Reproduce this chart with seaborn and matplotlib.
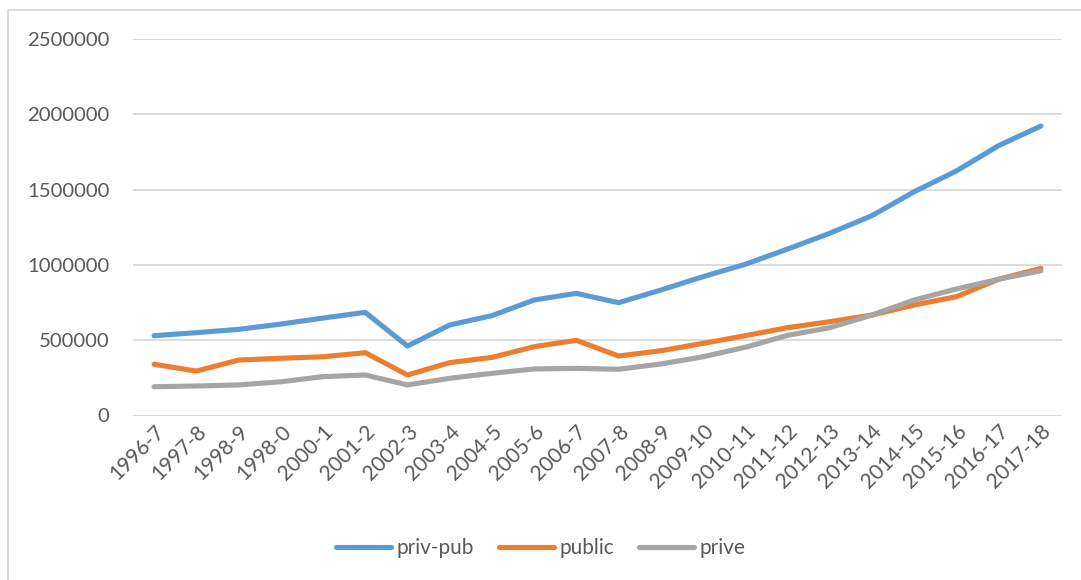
import pandas as pd
import numpy as np
import matplotlib
matplotlib.use("Agg")
import matplotlib.pyplot as plt
import seaborn as sns
from matplotlib.lines import Line2D

years = ['1996-7', '1997-8', '1998-9', '1998-0', '2000-1', '2001-2', '2002-3', '2003-4',
         '2004-5', '2005-6', '2006-7', '2007-8', '2008-9', '2009-10', '2010-11', '2011-12',
         '2012-13', '2013-14', '2014-15', '2015-16', '2016-17', '2017-18']

priv_pub = [530000, 550000, 572000, 607000, 647000, 685000, 461000, 601000,
            663000, 767000, 811000, 749000, 833000, 922000, 1004000, 1105000,
            1210000, 1327000, 1486000, 1624000, 1792000, 1922000]
public = [340000, 295000, 368000, 380000, 390000, 417000, 269000, 351000,
          386000, 457000, 499000, 395000, 430000, 479000, 530000, 583000,
          623000, 667000, 734000, 789000, 905000, 977000]
prive = [191000, 196000, 203000, 224000, 258000, 269000, 203000, 247000,
         280000, 309000, 313000, 307000, 342000, 390000, 453000, 532000,
         583000, 667000, 767000, 840000, 905000, 961000]

series_names = ['priv-pub', 'public', 'prive']
colors = ['#5B9BD5', '#ED7D31', '#A5A5A5']

df = pd.DataFrame({'year': years, 'priv-pub': priv_pub, 'public': public, 'prive': prive})
long_df = df.melt(id_vars='year', var_name='serie', value_name='value')

sns.set_style("white")
plt.rcParams['font.family'] = ['Lato', 'DejaVu Sans']

fig = plt.figure(figsize=(10.81, 5.8), dpi=100)
ax = fig.add_axes([133 / 1081, 1 - 415.5 / 580, (1062 - 133) / 1081, (415.5 - 39) / 580])

sns.lineplot(data=long_df, x='year', y='value', hue='serie', hue_order=series_names,
             palette=colors, linewidth=3.7, sort=False, legend=False, ax=ax)

ax.set_ylim(0, 2500000)
ax.set_xlim(-0.5, len(years) - 0.5)
ax.set_yticks(np.arange(0, 2500001, 500000))
ax.set_yticklabels([f'{int(v)}' for v in np.arange(0, 2500001, 500000)])
ax.yaxis.grid(True, color='#D9D9D9', linewidth=1.3)
ax.set_axisbelow(True)
for s in ax.spines.values():
    s.set_visible(False)
ax.set_xlabel('')
ax.set_ylabel('')
ax.tick_params(axis='y', length=0, pad=17, labelsize=14.6, labelcolor='#595959')
ax.tick_params(axis='x', length=0, pad=4, labelsize=15, labelcolor='#595959')
plt.setp(ax.get_xticklabels(), rotation=45, ha='right', rotation_mode='anchor')

handles = [Line2D([0], [0], color=c, linewidth=3.7, solid_capstyle='round') for c in colors]
leg = fig.legend(handles, series_names, loc='center', bbox_to_anchor=(0.5, 1 - 548 / 580),
                 ncol=3, frameon=False, fontsize=15, handlelength=2.65, handletextpad=0.25,
                 columnspacing=1.2)
for t in leg.get_texts():
    t.set_color('#595959')

# outer chart border (top and left edges visible)
fig.add_artist(Line2D([8 / 1081, 1], [1 - 9.5 / 580, 1 - 9.5 / 580], color='#D9D9D9', linewidth=1.3))
fig.add_artist(Line2D([8 / 1081, 8 / 1081], [0, 1 - 9.5 / 580], color='#D9D9D9', linewidth=1.3))

fig.savefig('out.png', dpi=100)
